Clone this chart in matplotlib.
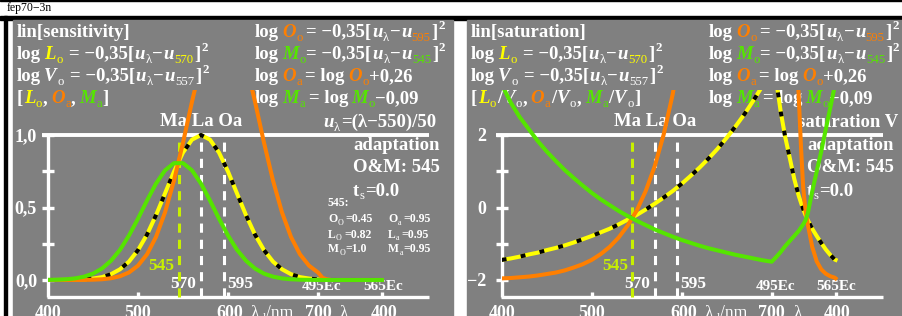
import matplotlib
matplotlib.use('Agg')
import matplotlib.pyplot as plt
from matplotlib.patches import Rectangle

W, H = 902, 316
FONT = 'Liberation Serif'
WHITE = '#ffffff'
YEL = '#ffff00'
ORA = '#ff7f00'
GRN = '#55e500'
YGN = '#c8f000'
GRAY = '#808080'

# abscissa: 400..700 nm, then the purple section 700..771 (495Ec .. 565Ec)
wave = [400, 410, 420, 430, 440, 450, 460, 470, 480, 490, 500, 510, 520, 530, 540,
        550, 560, 570, 580, 590, 600, 610, 620, 630, 640, 650, 660, 670, 680, 690, 700]
purple = [705, 710, 715, 720, 725, 730, 732.5, 735, 737.5, 740, 745, 750, 755, 760,
          765, 770, 771]
x_all = wave + purple

# left panel: sensitivities L_o, O_a, M_a
sens_L = [0.0, 0.0003, 0.0007, 0.002, 0.004, 0.010, 0.020, 0.040, 0.074, 0.127, 0.206,
          0.313, 0.447, 0.597, 0.748, 0.879, 0.968, 1.0, 0.968, 0.879, 0.748, 0.597,
          0.447, 0.313, 0.206, 0.127, 0.074, 0.040, 0.020, 0.010, 0.004,
          0, 0, 0, 0, 0, 0, 0, 0, 0, 0, 0, 0, 0, 0, 0, 0, 0]
sens_O = [0.0, 0.0, 0.0001, 0.0003, 0.0008, 0.002, 0.005, 0.012, 0.026, 0.052, 0.099,
          0.177, 0.297, 0.466, 0.686, 0.947, 1.23, 1.49, 1.69, 1.80, 1.80, 1.69, 1.49,
          1.23, 0.947, 0.686, 0.466, 0.297, 0.177, 0.099, 0.052,
          0.015, 0.004, 0, 0, 0, 0, 0, 0, 0, 0, 0, 0, 0, 0, 0, 0, 0]
sens_M = [0.001, 0.002, 0.005, 0.011, 0.023, 0.044, 0.079, 0.133, 0.208, 0.307, 0.423,
          0.548, 0.665, 0.756, 0.806, 0.806, 0.756, 0.665, 0.548, 0.423, 0.307, 0.208,
          0.133, 0.079, 0.044, 0.023, 0.011, 0.005, 0.002, 0.001, 0.0,
          0, 0, 0, 0, 0, 0, 0, 0, 0, 0, 0, 0, 0, 0, 0, 0, 0]

# right panel: saturation L_o/V_o, O_a/V_o, M_a/V_o
sat_L = [-1.44, -1.40, -1.35, -1.29, -1.24, -1.17, -1.11, -1.04, -0.96, -0.87, -0.78,
         -0.68, -0.58, -0.46, -0.33, -0.20, -0.05, 0.11, 0.28, 0.46, 0.66, 0.88, 1.11,
         1.36, 1.63, 1.93, 2.25, 2.59, 2.97, 3.37, 3.80,
         3.5, 2.65, 1.95, 1.38, 0.8, 0.33, 0.14, -0.04, -0.2, -0.34, -0.58, -0.78,
         -0.97, -1.15, -1.30, -1.43, -1.44]
sat_O = [-1.95, -1.94, -1.92, -1.90, -1.87, -1.83, -1.79, -1.73, -1.65, -1.56, -1.44,
         -1.28, -1.08, -0.82, -0.49, -0.08, 0.46, 1.14, 2.02, 3.13, 4.55, 6.3, 8.5,
         11, 14, 17, 20, 23, 26, 29, 32,
         28, 22, 15, 9, 5.5, 3.1, 1.7, 0.55, -0.05, -0.45, -1.08, -1.48, -1.70, -1.82,
         -1.89, -1.93, -1.95]
sat_M = [3.40, 2.90, 2.50, 2.17, 1.84, 1.55, 1.29, 1.04, 0.82, 0.61, 0.41, 0.23, 0.07,
         -0.09, -0.23, -0.36, -0.48, -0.60, -0.70, -0.80, -0.89, -0.97, -1.05, -1.12,
         -1.18, -1.24, -1.30, -1.35, -1.40, -1.45, -1.49,
         -1.36, -1.22, -1.06, -0.92, -0.78, -0.64, -0.55, -0.46, -0.35, -0.17, 0.45,
         1.0, 1.55, 2.15, 2.75, 3.35, 3.45]

fig = plt.figure(figsize=(W / 100, H / 100), dpi=100)
bg = fig.add_axes([0, 0, 1, 1])
bg.set_xlim(0, W)
bg.set_ylim(H, 0)
bg.axis('off')
renderer = fig.canvas.get_renderer()

# frame and gray panels
bg.add_patch(Rectangle((0, 0), W, 1.2, color='black'))
bg.add_patch(Rectangle((0, 16), W, 3.5, color='black'))
bg.add_patch(Rectangle((4, 16), 2.7, 300, color='black'))
bg.add_patch(Rectangle((13, 19.5), 440, 297, color=GRAY))
bg.add_patch(Rectangle((467, 19.5), 436, 297, color=GRAY))
bg.text(7, 11, 'fep70−3n', family=FONT, fontsize=8.5, color='black', va='baseline')


def rich(x, y, parts, size=13.5):
    em = size * 100 / 72
    for s, color, kind in parts:
        lead = len(s) - len(s.lstrip(' '))
        trail = len(s) - len(s.rstrip(' '))
        core = s.strip(' ')
        x += lead * 0.15 * em
        fs, dy, weight, style = size, 0, 'bold', 'normal'
        if kind == 'i':
            style = 'italic'
        elif kind == 's':
            fs, dy, weight = size * 0.68, 0.2 * em, 'normal'
        elif kind == 'S':
            fs, dy = size * 0.7, -0.42 * em
        elif kind == 'n':
            weight = 'normal'
        t = bg.text(x, y + dy, core, color=color, fontsize=fs, family=FONT,
                    weight=weight, style=style, va='baseline', ha='left')
        x += t.get_window_extent(renderer).width + 0.03 * em
        x += trail * 0.15 * em
    return x


def formula(sub_col, sub_txt, letter, letter_col, sub_letter, eq):
    return [('log ', WHITE, 'b'), (letter, letter_col, 'i'), (sub_letter, letter_col, 's'),
            (eq, WHITE, 'b'), ('u', WHITE, 'i'), ('λ', WHITE, 's'), ('−', WHITE, 'b'),
            ('u', WHITE, 'i'), (sub_txt, sub_col, 's'), (']', WHITE, 'b'), ('2', WHITE, 'S')]


def draw_panel(dx, x0, y0, k, top, yticks, ylabels, series, right):
    ax = fig.add_axes([x0 / W, 1 - 297 / H, 381 / W, 207 / H])
    xend = 400 + 381 / 0.9
    ybot = (y0 - 297) / k
    ax.set_xlim(400, xend)
    ax.set_ylim(ybot, (y0 - 90) / k)
    ax.axis('off')
    px, py = 1 / 0.9, 1 / k
    lw = dict(color=WHITE, clip_on=False, solid_capstyle='butt')
    ax.plot([400, 400], [ybot, top], lw=2.4, **lw)
    ax.plot([400 - 6 * px, xend], [top, top], lw=2.8, **lw)
    ax.plot([400 - 1 * px, xend], [ybot, ybot], lw=2.4, **lw)
    for v in yticks:
        ax.plot([400 - 6 * px, 400 + 6 * px], [v, v], lw=2.4, **lw)
    for t in [500, 600, 700, 771]:
        ax.plot([t, t], [ybot, ybot + 5 * py], lw=2.4, **lw)
    for t, c in [(545, YGN), (570, WHITE), (595, WHITE)]:
        ax.plot([t, t], [ybot, top - 3 * py], color=c, lw=2.2, dashes=(3, 2.3),
                clip_on=False)
    ys_L, ys_O, ys_M = series
    ax.plot(x_all, ys_L, color=YEL, lw=2.9, solid_joinstyle='round')
    ax.plot(x_all, ys_L, color='black', lw=2.9, dashes=(1.2, 3.6))
    ax.plot(x_all, ys_O, color=ORA, lw=2.9, solid_joinstyle='round')
    ax.plot(x_all, ys_M, color=GRN, lw=2.9, solid_joinstyle='round')

    # y tick labels
    for v, lab in zip(yticks[::2], ylabels):
        bg.text(x0 - 11 - (4 if right else 0), y0 - v * k + 6, lab, family=FONT,
                weight='bold', fontsize=13, color=WHITE, ha='right', va='baseline')

    def tx(t):
        return x0 + (t - 400) * 0.9

    # marker labels
    bg.text(tx(545) - 4, 270, '545', family=FONT, weight='bold', fontsize=12.5,
            color=YGN, ha='right', va='baseline')
    bg.text(tx(570) - 5, 288, '570', family=FONT, weight='bold', fontsize=12.5,
            color=WHITE, ha='right', va='baseline')
    bg.text(tx(595) + 3.5, 288, '595', family=FONT, weight='bold', fontsize=12.5,
            color=WHITE, ha='left', va='baseline')
    for t, lab in [(704, '495Ec'), (772, '565Ec')]:
        bg.text(tx(t), 290, lab, family=FONT, weight='bold', fontsize=11,
                color=WHITE, ha='center', va='baseline')
    # bottom axis labels
    for t, lab in [(400, '400'), (500, '500'), (602, '600'), (700, '700'), (773, '400')]:
        bg.text(tx(t), 318, lab, family=FONT, weight='bold', fontsize=13,
                color=WHITE, ha='center', va='baseline')
    rich(tx(625), 318, [('λ', WHITE, 'n'), ('d', WHITE, 's'), ('/nm', WHITE, 'n')], 12.7)
    rich(tx(724), 318, [('λ', WHITE, 'n'), ('c', WHITE, 's')], 12.7)

    # header text
    rich(17 + dx, 37, [('lin[saturation]' if right else 'lin[sensitivity]', WHITE, 'b')])
    rich(17 + dx, 59, formula(YEL, '570', 'L', YEL, 'o', '  = −0,35['))
    rich(17 + dx, 81, formula(WHITE, '557', 'V', WHITE, 'o', '  = −0,35['))
    if right:
        row4 = [('[', WHITE, 'b'), ('L', YEL, 'i'), ('o', YEL, 's'), ('/', WHITE, 'b'),
                ('V', WHITE, 'i'), ('o', WHITE, 's'), (', ', WHITE, 'b'),
                ('O', ORA, 'i'), ('a', ORA, 's'), ('/', WHITE, 'b'),
                ('V', WHITE, 'i'), ('o', WHITE, 's'), (', ', WHITE, 'b'),
                ('M', GRN, 'i'), ('a', GRN, 's'), ('/', WHITE, 'b'),
                ('V', WHITE, 'i'), ('o', WHITE, 's'), (']', WHITE, 'b')]
    else:
        row4 = [('[', WHITE, 'b'), ('L', YEL, 'i'), ('o', YEL, 's'), (', ', WHITE, 'b'),
                ('O', ORA, 'i'), ('a', ORA, 's'), (', ', WHITE, 'b'),
                ('M', GRN, 'i'), ('a', GRN, 's'), (']', WHITE, 'b')]
    rich(17 + dx, 103, row4)
    cx = 255 + dx
    rich(cx, 37, formula(ORA, '595', 'O', ORA, 'o', ' = −0,35['))
    rich(cx, 59, formula(GRN, '545', 'M', GRN, 'o', '= −0,35['))
    rich(cx, 81, [('log ', WHITE, 'b'), ('O', ORA, 'i'), ('a', ORA, 's'),
                  (' = log ', WHITE, 'b'), ('O', ORA, 'i'), ('o', ORA, 's'),
                  ('+0,26', WHITE, 'b')])
    rich(cx, 103, [('log ', WHITE, 'b'), ('M', GRN, 'i'), ('a', GRN, 's'),
                   (' = log ', WHITE, 'b'), ('M', GRN, 'i'), ('o', GRN, 's'),
                   ('−0,09', WHITE, 'b')])
    rich(160 + dx, 126, [('Ma La Oa', WHITE, 'b')])
    if right:
        rich(798, 127, [('saturation V', WHITE, 'b')])
    else:
        rich(323, 127, [('u', WHITE, 'i'), ('λ', WHITE, 's'), ('=(λ−550)/50', WHITE, 'b')])
    ax_ = 353 + dx
    rich(ax_, 150, [('adaptation', WHITE, 'b')])
    rich(ax_, 172.5, [('O&M: 545', WHITE, 'b')])
    rich(ax_, 195.5, [('t', WHITE, 'b'), ('s', WHITE, 's'), ('=0.0', WHITE, 'b')])


draw_panel(0, 48, 280, 145, 1.0, [0, 0.25, 0.5, 0.75, 1.0], ['0,0', '0,5', '1,0'],
           (sens_L, sens_O, sens_M), False)
draw_panel(454, 501.7, 207.7, 36.25, 2.0, [-2, -1, 0, 1, 2], ['−2', '0', '2'],
           (sat_L, sat_O, sat_M), True)

# small value table (left panel)
rich(327, 206.5, [('545:', WHITE, 'b')], 8.5)
table = [(222.5, 'O', '=0.45', 'O', '=0.95'), (237.5, 'L', '=0.82', 'L', '=0.95'),
         (252.5, 'M', '=1.0', 'M', '=0.95')]
for y, a, va, b, vb in table:
    rich(328, y, [(a, WHITE, 'b'), ('O', WHITE, 's'), (' ' + va if a != 'M' else va, WHITE, 'b')], 8.5)
    rich(388, y, [(b, WHITE, 'b'), ('a', WHITE, 's'), (' ' + vb if b != 'M' else vb, WHITE, 'b')], 8.5)

fig.savefig('out.png', dpi=100, facecolor='white')
